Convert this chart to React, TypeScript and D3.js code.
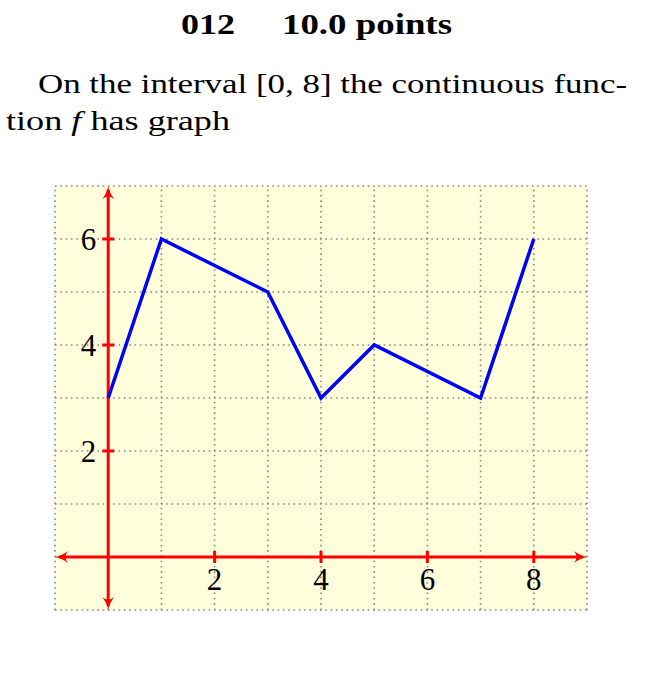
import React from "react";
import * as d3 from "d3";

const points: [number, number][] = [
  [0, 3], [1, 6], [3, 5], [4, 3], [5, 4], [7, 3], [8, 6],
];
const xTicks = [2, 4, 6, 8];
const yTicks = [2, 4, 6];
const xGrid = d3.range(-1, 10);
const yGrid = d3.range(-1, 8);

export default function App() {
  const x = d3.scaleLinear().domain([-1, 9]).range([55, 587]);
  const y = d3.scaleLinear().domain([-1, 7]).range([610, 186]);
  const line = d3.line<[number, number]>().x((d) => x(d[0])).y((d) => y(d[1]));
  const red = "#ff0000";
  const serif = "Liberation Serif, DejaVu Serif, serif";
  const arrow = (px: number, py: number, dir: "l" | "r" | "u" | "d") => {
    const L = 13, W = 6;
    let p = "";
    if (dir === "r") p = `M${px},${py} Q${px - L * 0.5},${py - 1} ${px - L},${py - W} Q${px - L * 0.6},${py} ${px - L},${py + W} Q${px - L * 0.5},${py + 1} ${px},${py} Z`;
    if (dir === "l") p = `M${px},${py} Q${px + L * 0.5},${py - 1} ${px + L},${py - W} Q${px + L * 0.6},${py} ${px + L},${py + W} Q${px + L * 0.5},${py + 1} ${px},${py} Z`;
    if (dir === "u") p = `M${px},${py} Q${px - 1},${py + L * 0.5} ${px - W},${py + L} Q${px},${py + L * 0.6} ${px + W},${py + L} Q${px + 1},${py + L * 0.5} ${px},${py} Z`;
    if (dir === "d") p = `M${px},${py} Q${px - 1},${py - L * 0.5} ${px - W},${py - L} Q${px},${py - L * 0.6} ${px + W},${py - L} Q${px + 1},${py - L * 0.5} ${px},${py} Z`;
    return <path d={p} fill={red} />;
  };
  return (
    <svg width={647} height={690} style={{ position: "absolute", left: 0, top: 0 }}>
      <rect width={647} height={690} fill="#fff" />
      <text x={181} y={34} fontFamily={serif} fontWeight="bold" fontSize={29} textLength={54} lengthAdjust="spacingAndGlyphs">012</text>
      <text x={282} y={34} fontFamily={serif} fontWeight="bold" fontSize={29} textLength={170} lengthAdjust="spacingAndGlyphs">10.0 points</text>
      <text x={38} y={93} fontFamily={serif} fontSize={28} textLength={589} lengthAdjust="spacingAndGlyphs">On the interval [0, 8] the continuous func-</text>
      <text x={6} y={130} fontFamily={serif} fontSize={28} textLength={224} lengthAdjust="spacingAndGlyphs">
        tion <tspan fontStyle="italic">f</tspan> has graph
      </text>
      <rect x={x(-1)} y={y(7)} width={x(9) - x(-1)} height={y(-1) - y(7)} fill="#ffffdc" />
      {xGrid.map((g) => (
        <line key={"gx" + g} x1={x(g)} x2={x(g)} y1={y(-1)} y2={y(7)} stroke="#888" strokeWidth={1.6} strokeDasharray="1.6 3.7" />
      ))}
      {yGrid.map((g) => (
        <line key={"gy" + g} x1={x(-1)} x2={x(9)} y1={y(g)} y2={y(g)} stroke="#888" strokeWidth={1.6} strokeDasharray="1.6 3.7" />
      ))}
      <line x1={x(-1) + 4} x2={x(9) - 4} y1={y(0)} y2={y(0)} stroke={red} strokeWidth={3} />
      <line x1={x(0)} x2={x(0)} y1={y(-1) - 4} y2={y(7) + 4} stroke={red} strokeWidth={3} />
      {arrow(x(9), y(0), "r")}
      {arrow(x(-1), y(0), "l")}
      {arrow(x(0), y(7), "u")}
      {arrow(x(0), y(-1), "d")}
      {xTicks.map((t) => (
        <g key={"xt" + t}>
          <line x1={x(t)} x2={x(t)} y1={y(0) - 6} y2={y(0) + 6} stroke={red} strokeWidth={3} />
          <text x={x(t)} y={y(0) + 33} textAnchor="middle" fontFamily={serif} fontSize={31}>{t}</text>
        </g>
      ))}
      {yTicks.map((t) => (
        <g key={"yt" + t}>
          <line x1={x(0) - 6} x2={x(0) + 6} y1={y(t)} y2={y(t)} stroke={red} strokeWidth={3} />
          <text x={x(0) - 12} y={y(t) + 11} textAnchor="end" fontFamily={serif} fontSize={31}>{t}</text>
        </g>
      ))}
      <path d={line(points) || ""} fill="none" stroke="#0000ff" strokeWidth={3.5} strokeLinejoin="miter" />
    </svg>
  );
}
